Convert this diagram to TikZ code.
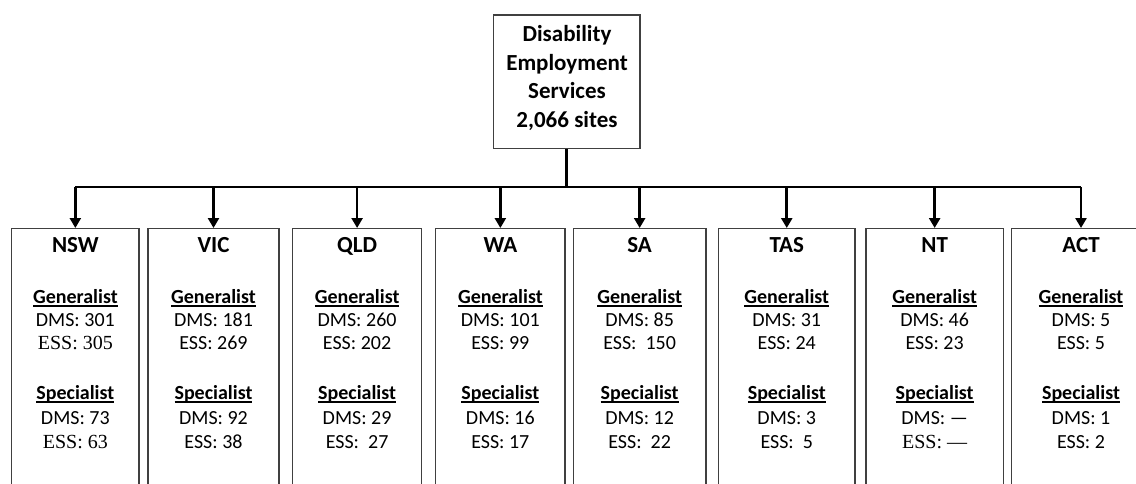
\documentclass[tikz,border=0pt]{standalone}
\usepackage{fontspec}
\setmainfont{Carlito}
\newfontfamily\tnrfont{Liberation Serif}
\usetikzlibrary{arrows.meta}
\newcommand\myul[1]{\setbox0\hbox{#1}\rlap{\rule[-3pt]{\wd0}{1.4pt}}\box0}
\tikzset{
  sbox/.style={draw=black!75, line width=1.2pt, anchor=north, minimum height=270pt, inner sep=0pt},
  tbox/.style={draw=black!75, line width=1.2pt, inner sep=0pt},
  ttl/.style={anchor=base, font=\fontsize{23}{23}\selectfont\bfseries, inner sep=0pt},
  hd/.style={anchor=base, font=\fontsize{20}{23}\selectfont\bfseries, inner sep=0pt},
  val/.style={anchor=base, font=\fontsize{20}{23}\selectfont, inner sep=0pt},
  conn/.style={line width=2.7pt, black},
  arr/.style={line width=2.7pt, black, -{Triangle[width=11pt,length=10pt]}},
}
\newcommand\stateunit[8]{%
  \node[sbox, minimum width=#3] (#1) at (#2,228) {};
  \node[ttl] (#1-t) at (#2,252.4) {#4};
  \node[hd] (#1-g) at (#2,303.5) {\myul{Generalist}};
  \node[val] (#1-gd) at (#2,326.5) {#5};
  \node[val] (#1-ge) at (#2,349.5) {#6};
  \node[hd] (#1-s) at (#2,399.5) {\myul{Specialist}};
  \node[val] (#1-sd) at (#2,424.5) {#7};
  \node[val] (#1-se) at (#2,448) {#8};
}
\begin{document}
\begin{tikzpicture}[x=1pt,y=-1pt]
\useasboundingbox (0,0) rectangle (1136,483);
\clip (0,0) rectangle (1136,483);
\fill[white] (0,0) rectangle (1136,483);
\node[tbox, minimum width=146.7pt, minimum height=133.3pt] (top) at (566.65,81.65) {};
\node[align=center, font=\fontsize{23}{28.5}\selectfont\bfseries, inner sep=0pt] (topt) at (567,78) {Disability\\Employment\\Services\\2,066 sites};
\stateunit{nsw}{75.35}{127.3pt}{NSW}{DMS: 301}{{\tnrfont ESS: 305}}{DMS: 73}{{\tnrfont ESS: 63}}
\stateunit{vic}{213.5}{131pt}{VIC}{DMS: 181}{ESS: 269}{DMS: 92}{ESS: 38}
\stateunit{qld}{357.1}{128.8pt}{QLD}{DMS: 260}{ESS: 202}{DMS: 29}{ESS:\ \ 27}
\stateunit{wa}{500.35}{129.3pt}{WA}{DMS: 101}{ESS: 99}{DMS: 16}{ESS: 17}
\stateunit{sa}{639.65}{132.7pt}{SA}{DMS: 85}{ESS:\ \ 150}{DMS: 12}{ESS:\ \ 22}
\stateunit{tas}{786.75}{136.5pt}{TAS}{DMS: 31}{ESS: 24}{DMS: 3}{ESS:\ \ 5}
\stateunit{nt}{934.65}{137.3pt}{NT}{DMS: 46}{ESS: 23}{DMS: —}{{\tnrfont ESS: —}}
\stateunit{act}{1081}{138.6pt}{ACT}{DMS: 5}{ESS: 5}{DMS: 1}{ESS: 2}
\coordinate (bus) at (567.7,187);
\draw[conn] (top.south) -- (top.south |- bus);
\draw[conn] (nsw.north |- bus) -- (act.north |- bus);
\foreach \s in {nsw,vic,qld,wa,sa,tas,nt,act}{
  \draw[arr] (\s.north |- bus) -- (\s.north);
}
\end{tikzpicture}
\end{document}
